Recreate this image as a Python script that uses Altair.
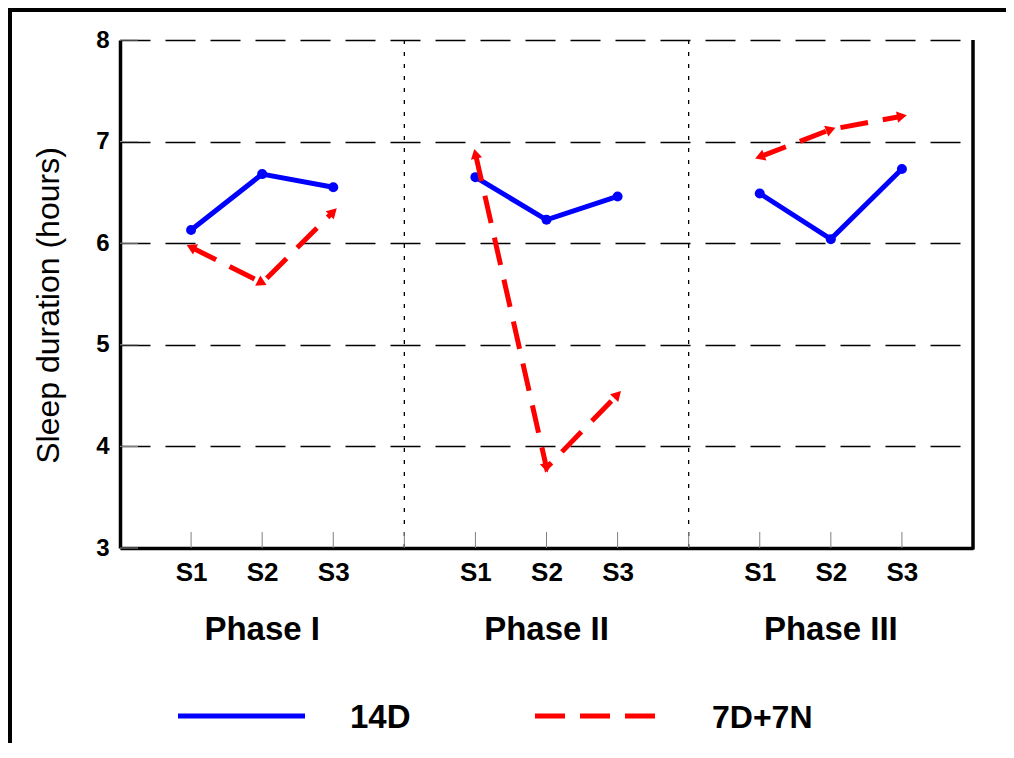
import math
import altair as alt
import pandas as pd

# ---- data ----
phases = ["Phase I", "Phase II", "Phase III"]
sessions = ["S1", "S2", "S3"]
series = ["14D", "7D+7N"]
sleep_14d = [6.13, 6.68, 6.55, 6.65, 6.23, 6.46, 6.49, 6.04, 6.73]
sleep_7d7n = [5.96, 5.61, 6.31, 6.88, 3.79, 4.51, 6.85, 7.12, 7.25]
y_ticks = [3, 4, 5, 6, 7, 8]

# ---- layout ----
W, H = 853, 508
X_MAX = 4 * len(phases)
Y_MIN, Y_MAX = 3, 8
FONT = "Liberation Sans"
BLUE = "#0000FF"
RED = "#FF0000"

rows = []
for name, vals in zip(series, [sleep_14d, sleep_7d7n]):
    for pi, ph in enumerate(phases):
        for k, s in enumerate(sessions):
            rows.append(dict(series=name, phase=ph, session=s,
                             pos=4 * pi + k + 1, value=vals[3 * pi + k]))
df = pd.DataFrame(rows)

# arrow-head orientation for the dashed series (direction of travel, in pixels)
pxx = W / X_MAX
pxy = H / (Y_MAX - Y_MIN)
angles = []
for r_i, r in df.iterrows():
    if r["series"] != "7D+7N":
        angles.append(0.0)
        continue
    k = sessions.index(r["session"])
    other = df.iloc[r_i + 1] if k == 0 else df.iloc[r_i - 1]
    dx = (r["pos"] - other["pos"]) * pxx
    dv = (r["value"] - other["value"]) * pxy
    angles.append(math.degrees(math.atan2(dx, dv)) % 360)
df["ang"] = angles

x_scale = alt.Scale(domain=[0, X_MAX], nice=False, zero=False)
y_scale = alt.Scale(domain=[Y_MIN, Y_MAX], nice=False, zero=False)

x_enc = alt.X(
    "pos:Q", scale=x_scale,
    axis=alt.Axis(values=[4 * p + k + 1 for p in range(len(phases)) for k in range(3)],
                  labelExpr="'S' + (((datum.value - 1) % 4) + 1)",
                  title=None, ticks=False, grid=False, domainColor="black",
                  domainWidth=3.5, labelFontSize=26, labelFontWeight="bold",
                  labelColor="black", labelPadding=11, labelFont=FONT, labelFlush=False))
y_enc = alt.Y(
    "value:Q", scale=y_scale,
    axis=alt.Axis(values=y_ticks, title="Sleep duration (hours)", ticks=False,
                  grid=True, gridColor="black", gridDash=[30, 15], gridWidth=1.3,
                  domainColor="black", domainWidth=3.5, labelFontSize=24,
                  labelFontWeight="bold", labelColor="black", labelPadding=11,
                  labelFont=FONT, titleFont=FONT, titleFontSize=32,
                  titleFontWeight="normal", titleColor="black", titlePadding=30,
                  titleY=H / 2 + 11))

one = pd.DataFrame({"k": [0]})

d14 = alt.Chart(df).transform_filter(alt.datum.series == "14D")
d7 = alt.Chart(df).transform_filter(alt.datum.series == "7D+7N")

blue_line = d14.mark_line(color=BLUE, strokeWidth=5).encode(x=x_enc, y=y_enc, detail="phase:N")
blue_pts = d14.mark_circle(color=BLUE, size=100, opacity=1).encode(x=x_enc, y=y_enc)
red_line = d7.mark_line(color=RED, strokeWidth=5, strokeDash=[28, 15], strokeCap="butt").encode(
    x=x_enc, y=y_enc, detail="phase:N")
red_pts = d7.mark_point(shape="triangle-up", filled=True, color=RED, size=130, opacity=1).encode(
    x=x_enc, y=y_enc, angle=alt.Angle("ang:Q", scale=None))

seps = alt.Chart(pd.DataFrame({"pos": [4 * (p + 1) for p in range(len(phases) - 1)]})).mark_rule(
    color="black", strokeWidth=1.3, strokeDash=[4, 8]).encode(
    x=x_enc, y=alt.value(0), y2=alt.value(H))

xticks = alt.Chart(pd.DataFrame({"pos": list(range(1, X_MAX))})).mark_rule(
    color="#808080", strokeWidth=1).encode(x=x_enc, y=alt.value(H), y2=alt.value(H - 16))
yticks = alt.Chart(pd.DataFrame({"value": y_ticks})).mark_rule(
    color="#909090", strokeWidth=1).encode(y=y_enc, x=alt.value(0), x2=alt.value(18))

right_border = alt.Chart(one).mark_rule(color="black", strokeWidth=3.5).encode(
    x=alt.value(W), y=alt.value(0), y2=alt.value(H + 1.5))
frame_top = alt.Chart(one).mark_rule(color="black", strokeWidth=4).encode(
    x=alt.value(-112), x2=alt.value(W + 40), y=alt.value(-30))
frame_left = alt.Chart(one).mark_rule(color="black", strokeWidth=4).encode(
    x=alt.value(-110), y=alt.value(-32), y2=alt.value(H + 200))

phase_df = pd.DataFrame({"phase": phases, "pos": [4 * i + 2 for i in range(len(phases))]})
phase_text = alt.Chart(phase_df).mark_text(
    font=FONT, fontSize=33, fontWeight="bold", color="black", baseline="alphabetic",
    align="center").encode(x=x_enc, y=alt.value(600), text="phase:N")

leg_blue = alt.Chart(one).mark_rule(color=BLUE, strokeWidth=5).encode(
    x=alt.value(58), x2=alt.value(185), y=alt.value(676))
leg_red = alt.Chart(one).mark_rule(color=RED, strokeWidth=5, strokeDash=[30, 15]).encode(
    x=alt.value(415), x2=alt.value(535), y=alt.value(676))
leg_t1 = alt.Chart(one).mark_text(
    text=series[0], font=FONT, fontSize=33, fontWeight="bold", color="black",
    align="left", baseline="alphabetic").encode(x=alt.value(230), y=alt.value(688))
leg_t2 = alt.Chart(one).mark_text(
    text=series[1], font=FONT, fontSize=32, fontWeight="bold", color="black",
    align="left", baseline="alphabetic").encode(x=alt.value(592), y=alt.value(688))

chart = alt.layer(
    blue_line, seps, xticks, yticks, blue_pts, red_line, red_pts, right_border,
    frame_top, frame_left, phase_text, leg_blue, leg_red, leg_t1, leg_t2
).properties(
    width=W, height=H,
    autosize=alt.AutoSizeParams(type="none"),
    padding={"left": 112, "top": 32, "right": 33, "bottom": 195},
    background="white",
).configure_view(stroke=None)

chart.save("out.html", embed_options={"renderer": "svg", "actions": False})
